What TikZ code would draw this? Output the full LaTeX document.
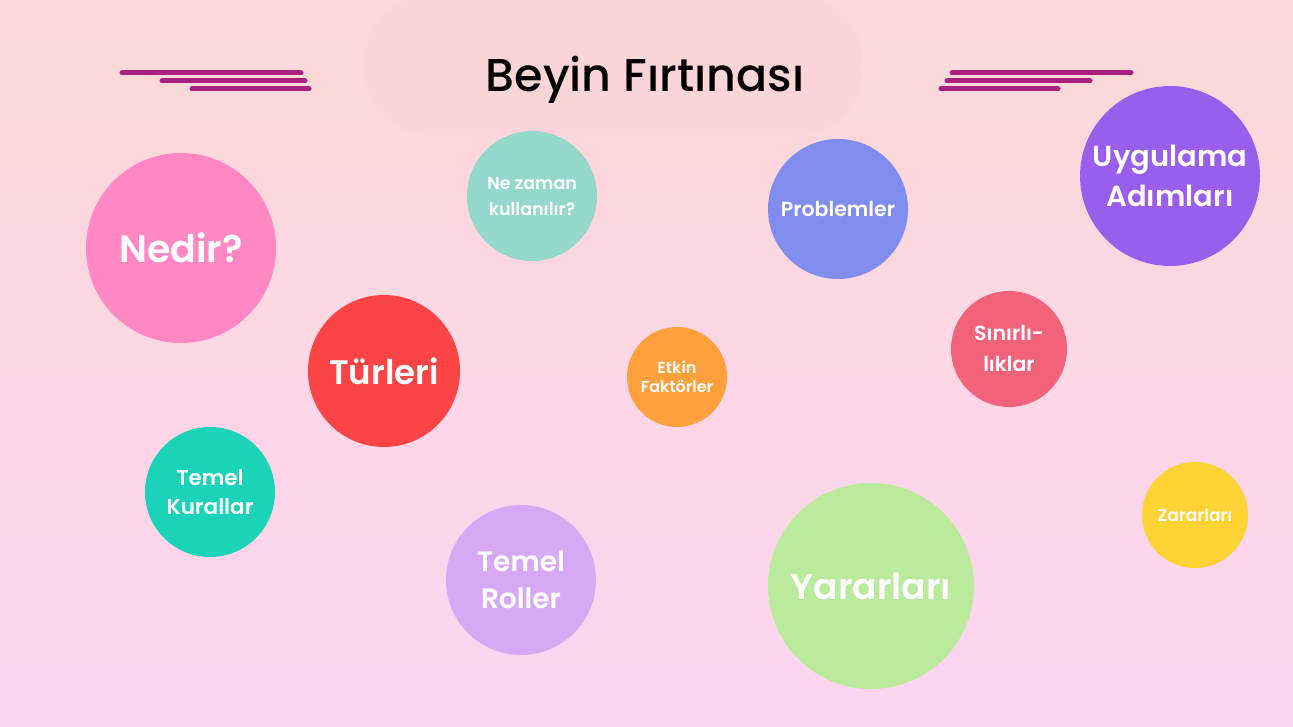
\documentclass[tikz,border=0pt]{standalone}
\usepackage{fontspec}
\setmainfont{Poppins}[BoldFont={Poppins SemiBold}]
\newfontfamily\titlefont{Poppins Medium}
\begin{document}
\begin{tikzpicture}[x=1pt,y=-1pt,
  bubble/.style={circle, inner sep=0pt, text=white, font=\bfseries, align=center},
  deco/.style={line width=5pt, line cap=round, color=barc}]
\definecolor{bgtop}{HTML}{FDD8D6}
\definecolor{bgbot}{HTML}{FED5F2}
\definecolor{blob}{HTML}{FBCFD6}
\definecolor{barc}{HTML}{A8217F}
\definecolor{cnedir}{HTML}{FF88C4}
\definecolor{cnezaman}{HTML}{93D8CB}
\definecolor{cprob}{HTML}{808CEE}
\definecolor{cuyg}{HTML}{995EEC}
\definecolor{cturl}{HTML}{FB4446}
\definecolor{cetkin}{HTML}{FFA03D}
\definecolor{csinir}{HTML}{F2637B}
\definecolor{ckural}{HTML}{1AD3B9}
\definecolor{croller}{HTML}{D7A9F5}
\definecolor{cyarar}{HTML}{BAEB9C}
\definecolor{czarar}{HTML}{FFD333}
\useasboundingbox (0,0) rectangle (1293,727);
\shade[top color=bgtop, bottom color=bgbot] (0,0) rectangle (1293,727);
\fill[blob, opacity=0.3, rounded corners=65pt] (365,-5) rectangle (862,135);
% decorative bars
\draw[deco] (122,73) -- (301,73);
\draw[deco] (162,81) -- (305,81);
\draw[deco] (192,89) -- (309,89);
\draw[deco] (952,73) -- (1131,73);
\draw[deco] (947,81) -- (1090,81);
\draw[deco] (941,89) -- (1058,89);
% title
\node (title) at (645,80) {\titlefont\fontsize{46}{50}\selectfont Beyin Fırtınası};
% bubbles
\node[bubble, fill=cnedir, minimum size=190pt, font=\bfseries\fontsize{38}{40}\selectfont] (nedir) at (181,248) {Nedir?};
\node[bubble, fill=cnezaman, minimum size=130pt, font=\bfseries\fontsize{17.5}{26}\selectfont] (nezaman) at (532,196) {Ne zaman\\kullanılır?};
\node[bubble, fill=cprob, minimum size=140pt, font=\bfseries\fontsize{20.5}{22}\selectfont] (prob) at (838,209) {Problemler};
\node[bubble, fill=cuyg, minimum size=180pt, font=\bfseries\fontsize{29}{40}\selectfont] (uyg) at (1170,176) {Uygulama\\Adımları};
\node[bubble, fill=cturl, minimum size=152pt, font=\bfseries\fontsize{34}{36}\selectfont] (turl) at (384,371) {Türleri};
\node[bubble, fill=cetkin, minimum size=100pt, font=\bfseries\fontsize{16}{19}\selectfont] (etkin) at (677,377) {Etkin\\Faktörler};
\node[bubble, fill=csinir, minimum size=116pt, font=\bfseries\fontsize{20.5}{31}\selectfont] (sinir) at (1009,349) {Sınırlı-\\lıklar};
\node[bubble, fill=ckural, minimum size=130pt, font=\bfseries\fontsize{21.5}{29}\selectfont] (kural) at (210,492) {Temel\\Kurallar};
\node[bubble, fill=croller, minimum size=150pt, font=\bfseries\fontsize{28}{37}\selectfont] (roller) at (521,580) {Temel\\Roller};
\node[bubble, fill=cyarar, minimum size=206pt, font=\bfseries\fontsize{36}{40}\selectfont] (yarar) at (871,586) {Yararları};
\node[bubble, fill=czarar, minimum size=106pt, font=\bfseries\fontsize{17}{20}\selectfont] (zarar) at (1195,515) {Zararları};
\end{tikzpicture}
\end{document}
